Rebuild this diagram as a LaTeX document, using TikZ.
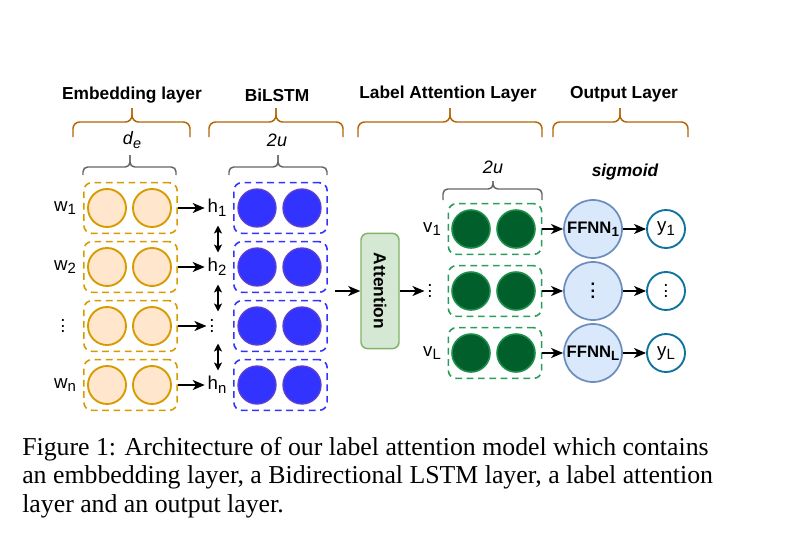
\documentclass[tikz,border=0pt]{standalone}
\usepackage{fontspec}
\setmainfont{Liberation Sans}
\newfontfamily\capfont{Liberation Serif}
\usetikzlibrary{arrows.meta,calc}
\definecolor{brbr}{HTML}{B46504}
\definecolor{grbr}{HTML}{666666}
\definecolor{embd}{HTML}{D79B00}
\definecolor{embf}{HTML}{FFE6CC}
\definecolor{lstf}{HTML}{3333FF}
\definecolor{lstd}{HTML}{5B3FD1}
\definecolor{lstb}{HTML}{3333FF}
\definecolor{attf}{HTML}{D5E8D4}
\definecolor{attd}{HTML}{82B366}
\definecolor{grnf}{HTML}{005F2B}
\definecolor{grnd}{HTML}{1B8F4A}
\definecolor{grnb}{HTML}{2A9D5C}
\definecolor{fff}{HTML}{DAE8FC}
\definecolor{ffd}{HTML}{6C8EBF}
\definecolor{ycd}{HTML}{10739E}
\newcommand\vdts[1][4pt]{\vbox{\baselineskip#1\lineskiplimit0pt\hbox{.}\hbox{.}\hbox{.}}}
\newcommand\sbs[1]{\raisebox{-0.2em}{\scalebox{0.8}{#1}}}
\newcommand\mybrace[7]{%
  \draw[#1] (#2,#5) |- (#3,#6) -- (#3,#7);
  \draw[#1] (#4,#5) |- (#3,#6) -- (#3,#7);}
\begin{document}
\begin{tikzpicture}[x=0.75pt,y=-0.75pt,
  brs/.style={draw=brbr,line width=1.1pt,rounded corners=5pt},
  grs/.style={draw=grbr,line width=1.1pt,rounded corners=3.5pt},
  ttl/.style={font=\bfseries\fontsize{13}{15}\selectfont,inner sep=1pt},
  dim/.style={font=\itshape\fontsize{13.5}{16}\selectfont,inner sep=1pt},
  lbl/.style={font=\fontsize{14}{16}\selectfont,inner sep=2pt},
  box/.style={rectangle,rounded corners=6pt,dash pattern=on 5pt off 3.5pt,line width=1.2pt,minimum width=70pt,minimum height=38pt,inner sep=0},
  ebox/.style={box,draw=embd},
  bbox/.style={box,draw=lstb},
  gbox/.style={box,draw=grnb},
  cir/.style={circle,inner sep=0,minimum size=28.5pt,line width=1.4pt},
  ec/.style={cir,draw=embd,fill=embf},
  bc/.style={cir,draw=lstd,fill=lstf,line width=1pt},
  gc/.style={cir,draw=grnd,fill=grnf,line width=1.2pt},
  ff/.style={circle,inner sep=0,minimum size=43.5pt,line width=1.3pt,draw=ffd,fill=fff,font=\bfseries\fontsize{12.5}{14}\selectfont},
  yc/.style={cir,draw=ycd,fill=white,font=\fontsize{14}{16}\selectfont},
  arr/.style={-{Stealth[length=9pt,width=7.5pt,inset=2.5pt]},line width=1.3pt},
  darr/.style={{Stealth[length=6pt,width=6pt,inset=1.5pt]}-{Stealth[length=6pt,width=6pt,inset=1.5pt]},line width=1.1pt},
  captxt/.style={anchor=base west,inner sep=0,font=\capfont\fontsize{19.35}{21}\selectfont}
]
\useasboundingbox (0,0) rectangle (795,539);
\fill[white] (0,0) rectangle (795,539);

% titles
\node[ttl] (t1) at (132,95) {Embedding layer};
\node[ttl] (t2) at (277,95) {BiLSTM};
\node[ttl] (t3) at (448,94) {Label Attention Layer};
\node[ttl] (t4) at (624,94) {Output Layer};

% braces
\mybrace{brs}{73}{132}{190}{137}{122}{108}
\mybrace{brs}{209}{276}{343}{137}{122}{108}
\mybrace{brs}{358}{450}{542}{137}{122}{108}
\mybrace{brs}{553}{620}{688}{137}{122}{108}
\mybrace{grs}{83}{130}{176}{175}{167}{155}
\mybrace{grs}{229}{278}{327}{175}{167}{155}
\mybrace{grs}{443}{493}{542}{200}{189}{181}

\node[dim] (de) at (132,140) {d\sbs{e}};
\node[dim] (u1) at (277,140) {2u};
\node[dim] (u2) at (493,167) {2u};
\node[font=\bfseries\itshape\fontsize{13}{15}\selectfont] (sg) at (625,172) {sigmoid};

% embedding and BiLSTM rows
\foreach \r/\y in {1/208,2/267,3/326,4/385}{
  \node[ebox] (e\r) at (130.5,\y) {};
  \node[ec] (ea\r) at (107,\y) {};
  \node[ec] (eb\r) at (152,\y) {};
  \node[bbox] (b\r) at (280.5,\y) {};
  \node[bc] (ba\r) at (257,\y) {};
  \node[bc] (bb\r) at (302,\y) {};
}
\node[lbl] (w1) at (65,208) {w\sbs{1}};
\node[lbl] (w2) at (65,267) {w\sbs{2}};
\node[lbl] (w3) at (63,326) {\vdts};
\node[lbl] (w4) at (65,385) {w\sbs{n}};
\node[lbl] (h1) at (217,208) {h\sbs{1}};
\node[lbl] (h2) at (217,267) {h\sbs{2}};
\node[lbl] (h3) at (212,326) {\vdts};
\node[lbl] (h4) at (217,385) {h\sbs{n}};
\foreach \r in {1,2,3,4}{\draw[arr] (e\r.east) -- (h\r.west);}
\coordinate (m1) at ($(h1)!0.5!(h2)$);
\coordinate (m2) at ($(h2)!0.5!(h3)$);
\coordinate (m3) at ($(h3)!0.5!(h4)$);
\foreach \m in {m1,m2,m3}{
  \draw[darr] ($(\m -| h1)+(1,-12)$) -- ($(\m -| h1)+(1,15)$);
}

% attention
\node[draw=attd,fill=attf,line width=1.1pt,rounded corners=5pt,minimum width=28.5pt,minimum height=86.5pt,inner sep=0,font=\bfseries\fontsize{13}{15}\selectfont] (att) at (380,291) {\rotatebox{-90}{Attention}};
\coordinate (bl) at (335,291);
\draw[arr] (bl) -- (att.west);
\node[lbl] (v2) at (430,291) {\vdts};
\draw[arr] (att.east) -- (v2.west);

% label attention rows and outputs
\foreach \r/\y in {1/229,2/291,3/353}{
  \node[gbox] (g\r) at (495,\y) {};
  \node[gc] (ga\r) at (471,\y) {};
  \node[gc] (gb\r) at (516,\y) {};
}
\node[lbl] (v1) at (432,229) {v\sbs{1}};
\node[lbl] (v3) at (432,353) {v\sbs{L}};
\node[ff] (f1) at (593,229) {FFNN\sbs{1}};
\node[ff] (f2) at (593,291) {\vdts[5pt]};
\node[ff] (f3) at (593,353) {FFNN\sbs{L}};
\node[yc] (y1) at (666,229) {y\sbs{1}};
\node[yc] (y2) at (666,291) {\vdts};
\node[yc] (y3) at (666,353) {y\sbs{L}};
\foreach \r in {1,2,3}{
  \draw[arr] (g\r.east) -- (f\r.west);
  \draw[arr] (f\r.east) -- (y\r.west);
}

% caption
\node[captxt] (c1) at (22,455) {Figure 1: Architecture of our label attention model which contains};
\node[captxt] (c2) at (22,483.5) {an embbedding layer, a Bidirectional LSTM layer, a label attention};
\node[captxt] (c3) at (22,512) {layer and an output layer.};
\end{tikzpicture}
\end{document}
